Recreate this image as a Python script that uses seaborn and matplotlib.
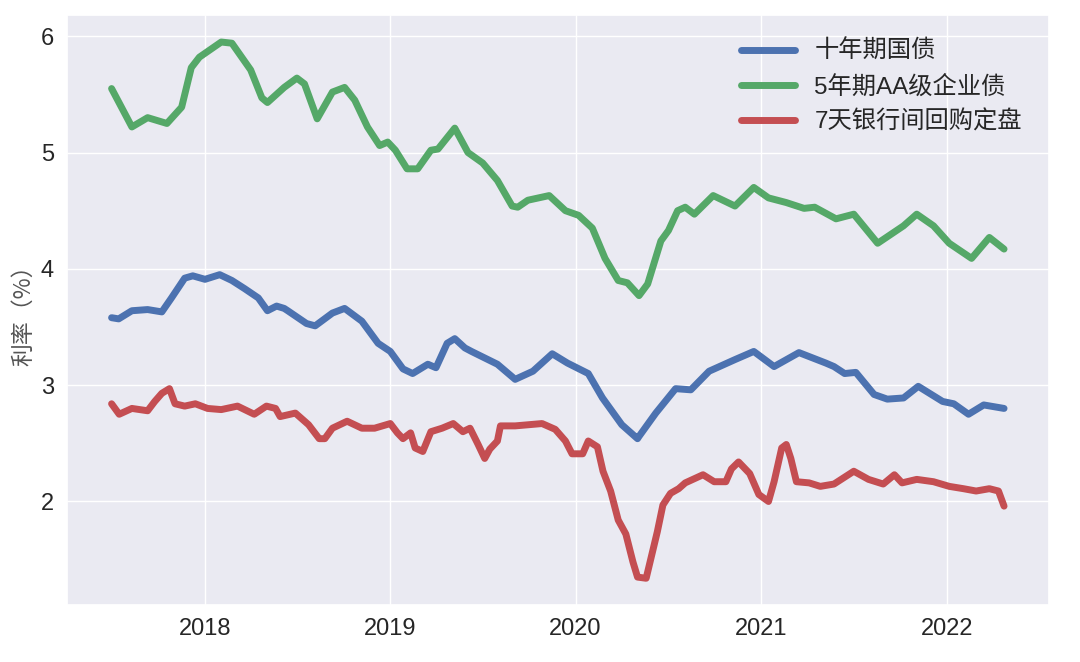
import pandas as pd
import matplotlib.pyplot as plt
import seaborn as sns

# 十年期国债
gb_dates = ['2017-07-01', '2017-07-15', '2017-08-10', '2017-09-10', '2017-10-08', '2017-10-27',
            '2017-11-22', '2017-12-08', '2018-01-01', '2018-01-30', '2018-02-23', '2018-03-20',
            '2018-04-16', '2018-05-04', '2018-05-22', '2018-06-06', '2018-06-13', '2018-07-20',
            '2018-08-06', '2018-09-09', '2018-10-03', '2018-11-06', '2018-12-08', '2019-01-01',
            '2019-01-26', '2019-02-14', '2019-03-16', '2019-04-01', '2019-04-23', '2019-05-08',
            '2019-05-28', '2019-06-10', '2019-07-31', '2019-09-04', '2019-10-09', '2019-11-16',
            '2019-12-16', '2020-01-26', '2020-02-23', '2020-04-01', '2020-05-02', '2020-05-05',
            '2020-06-07', '2020-07-16', '2020-08-15', '2020-09-20', '2020-11-10', '2020-12-17',
            '2021-01-26', '2021-03-16', '2021-05-08', '2021-05-24', '2021-06-14', '2021-07-06',
            '2021-08-11', '2021-09-06', '2021-10-08', '2021-11-06', '2021-12-24', '2022-01-15',
            '2022-02-13', '2022-03-15', '2022-04-24']
gb_vals = [3.58, 3.57, 3.64, 3.65, 3.63, 3.75,
           3.92, 3.94, 3.91, 3.95, 3.90, 3.83,
           3.75, 3.64, 3.68, 3.66, 3.64, 3.53,
           3.51, 3.62, 3.66, 3.55, 3.36, 3.29,
           3.14, 3.10, 3.18, 3.15, 3.36, 3.40,
           3.32, 3.29, 3.18, 3.05, 3.12, 3.27,
           3.19, 3.10, 2.89, 2.66, 2.54, 2.56,
           2.76, 2.97, 2.96, 3.12, 3.22, 3.29,
           3.16, 3.28, 3.19, 3.16, 3.10, 3.11,
           2.92, 2.88, 2.89, 2.99, 2.86, 2.84,
           2.75, 2.83, 2.80]

# 5年期AA级企业债
cb_dates = ['2017-07-01', '2017-08-10', '2017-09-10', '2017-10-18', '2017-11-16', '2017-12-05',
            '2017-12-21', '2018-02-02', '2018-02-23', '2018-04-01', '2018-04-23', '2018-05-04',
            '2018-06-06', '2018-07-01', '2018-07-16', '2018-08-10', '2018-09-09', '2018-10-03',
            '2018-10-23', '2018-11-17', '2018-12-11', '2018-12-27', '2019-01-11', '2019-02-03',
            '2019-02-24', '2019-03-22', '2019-04-05', '2019-05-08', '2019-06-03', '2019-07-02',
            '2019-07-31', '2019-08-29', '2019-09-09', '2019-09-29', '2019-11-10', '2019-12-12',
            '2020-01-07', '2020-02-03', '2020-02-28', '2020-03-25', '2020-04-12', '2020-05-05',
            '2020-05-22', '2020-06-17', '2020-07-02', '2020-07-20', '2020-08-04', '2020-08-22',
            '2020-09-28', '2020-11-10', '2020-12-17', '2021-01-15', '2021-02-19', '2021-03-26',
            '2021-04-16', '2021-05-28', '2021-07-02', '2021-08-18', '2021-10-08', '2021-11-03',
            '2021-12-06', '2022-01-06', '2022-02-19', '2022-03-26', '2022-04-24']
cb_vals = [5.55, 5.22, 5.30, 5.25, 5.39, 5.73,
           5.82, 5.95, 5.94, 5.71, 5.47, 5.43,
           5.56, 5.64, 5.59, 5.29, 5.52, 5.56,
           5.45, 5.22, 5.06, 5.09, 5.02, 4.86,
           4.86, 5.02, 5.03, 5.21, 5.00, 4.91,
           4.76, 4.54, 4.53, 4.59, 4.63, 4.50,
           4.46, 4.35, 4.09, 3.90, 3.88, 3.77,
           3.87, 4.24, 4.33, 4.50, 4.53, 4.47,
           4.63, 4.54, 4.70, 4.61, 4.57, 4.52,
           4.53, 4.43, 4.47, 4.22, 4.37, 4.47,
           4.37, 4.22, 4.09, 4.27, 4.17]

# 7天银行间回购定盘
rp_dates = ['2017-07-01', '2017-07-16', '2017-08-10', '2017-09-10', '2017-09-24', '2017-10-08',
            '2017-10-23', '2017-11-03', '2017-11-22', '2017-12-13', '2018-01-06', '2018-02-02',
            '2018-03-06', '2018-04-08', '2018-05-02', '2018-05-20', '2018-05-29', '2018-06-28',
            '2018-07-24', '2018-08-14', '2018-08-25', '2018-09-09', '2018-10-08', '2018-11-06',
            '2018-12-01', '2019-01-01', '2019-01-15', '2019-01-26', '2019-02-10', '2019-02-19',
            '2019-03-06', '2019-03-22', '2019-04-13', '2019-05-05', '2019-05-24', '2019-06-07',
            '2019-06-23', '2019-07-06', '2019-07-16', '2019-07-31', '2019-08-06', '2019-09-04',
            '2019-10-27', '2019-11-22', '2019-12-12', '2019-12-25', '2020-01-15', '2020-01-26',
            '2020-02-13', '2020-02-24', '2020-03-10', '2020-03-25', '2020-04-09', '2020-04-23',
            '2020-05-02', '2020-05-19', '2020-06-10', '2020-06-21', '2020-07-06', '2020-07-22',
            '2020-08-04', '2020-09-08', '2020-09-30', '2020-10-23', '2020-11-03', '2020-11-17',
            '2020-12-09', '2020-12-27', '2021-01-15', '2021-01-26', '2021-02-10', '2021-02-19',
            '2021-02-28', '2021-03-11', '2021-04-05', '2021-04-27', '2021-05-24', '2021-07-02',
            '2021-07-31', '2021-08-29', '2021-09-20', '2021-10-05', '2021-11-03', '2021-12-06',
            '2022-01-06', '2022-02-03', '2022-02-28', '2022-03-26', '2022-04-13', '2022-04-24']
rp_vals = [2.84, 2.75, 2.80, 2.78, 2.86, 2.93,
           2.97, 2.84, 2.82, 2.84, 2.80, 2.79,
           2.82, 2.75, 2.82, 2.80, 2.73, 2.76,
           2.66, 2.54, 2.54, 2.63, 2.69, 2.63,
           2.63, 2.67, 2.59, 2.54, 2.59, 2.46,
           2.43, 2.60, 2.63, 2.67, 2.60, 2.63,
           2.49, 2.37, 2.45, 2.52, 2.65, 2.65,
           2.67, 2.62, 2.52, 2.41, 2.41, 2.52,
           2.47, 2.26, 2.09, 1.84, 1.72, 1.48,
           1.35, 1.34, 1.74, 1.97, 2.07, 2.11,
           2.16, 2.23, 2.17, 2.17, 2.28, 2.34,
           2.24, 2.06, 2.00, 2.17, 2.46, 2.49,
           2.37, 2.17, 2.16, 2.13, 2.15, 2.26,
           2.19, 2.15, 2.23, 2.16, 2.19, 2.17,
           2.13, 2.11, 2.09, 2.11, 2.09, 1.96]

names = ['十年期国债', '5年期AA级企业债', '7天银行间回购定盘']
colors = ['#4C72B0', '#55A868', '#C44E52']

df = pd.concat([
    pd.DataFrame({'date': pd.to_datetime(gb_dates), 'rate': gb_vals, 'series': names[0]}),
    pd.DataFrame({'date': pd.to_datetime(cb_dates), 'rate': cb_vals, 'series': names[1]}),
    pd.DataFrame({'date': pd.to_datetime(rp_dates), 'rate': rp_vals, 'series': names[2]}),
])

sns.set_theme(style='darkgrid')
plt.rcParams['font.family'] = ['Liberation Sans', 'Noto Sans CJK SC']
plt.rcParams['axes.unicode_minus'] = False

fig, ax = plt.subplots(figsize=(10.8, 6.62), dpi=100)
fig.subplots_adjust(left=0.062, right=0.971, bottom=0.086, top=0.977)

sns.lineplot(data=df, x='date', y='rate', hue='series', hue_order=names,
             palette=dict(zip(names, colors)), linewidth=5, ax=ax)

ax.set_xlabel('')
ax.set_ylabel('利率（%）', fontsize=16.5, color='#555555', family=['Noto Sans CJK SC'])
ax.tick_params(axis='both', labelsize=17, colors='#262626')
ax.set_yticks([2, 3, 4, 5, 6])

leg = ax.legend(loc='upper right', fontsize=17.5, frameon=False, handlelength=2.2,
                bbox_to_anchor=(0.995, 0.995))
for line in leg.get_lines():
    line.set_linewidth(5)

plt.savefig('out.png', dpi=100)
